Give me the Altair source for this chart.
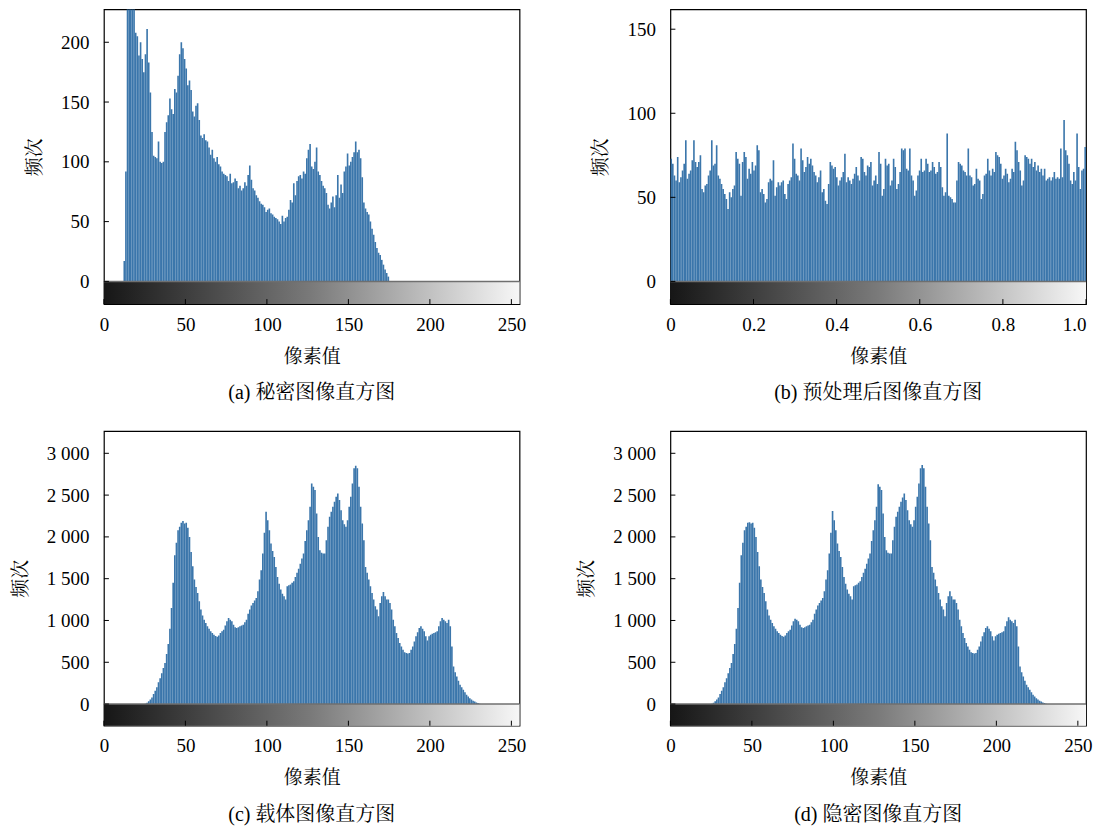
import altair as alt
import pandas as pd

FONT = "'Liberation Serif', 'Noto Serif CJK SC', 'Noto Sans CJK SC', serif"
BAR = "#3b76ab"
W, H = 416, 295

# ---------------- data ----------------
secret = [0] * 12 + [
    17, 92, 255, 250, 245, 240, 230, 208, 205, 189, 200, 186, 175, 190, 211, 183,
    158, 125, 105, 104, 103, 117, 100, 99, 100, 125, 133, 139, 153, 144, 140, 161,
    158, 172, 190, 200, 195, 186, 178, 164, 168, 160, 142, 138, 147, 149, 135, 122,
    120, 123, 118, 117, 112, 106, 110, 103, 100, 104, 98, 96, 92, 90, 89, 88,
    84, 90, 82, 83, 86, 84, 78, 80, 76, 78, 83, 80, 89, 97, 85, 78,
    76, 72, 70, 67, 65, 64, 62, 58, 60, 61, 57, 56, 54, 53, 52, 50,
    48, 55, 50, 53, 54, 60,
    68, 66, 82, 72, 84, 88, 89, 86, 92, 90, 103, 110, 115, 96, 94, 100,
    112, 92, 89, 84, 80, 78, 74, 64, 61, 66, 71, 62, 72, 89, 70, 81,
    74, 92, 96, 107, 97, 100, 104, 108, 117, 108, 110, 103, 87, 66, 61, 58,
    56, 50, 44, 39, 33, 28, 24, 22, 18, 14, 10, 7, 4, 0,
]
secret = secret + [0] * (256 - len(secret))

preproc = [
    73, 70, 63, 60, 74, 59, 62, 66, 70, 84, 61, 64, 66, 72, 84, 71,
    68, 71, 75, 55, 53, 57, 58, 63, 66, 84, 69, 70, 81, 63, 61, 58,
    55, 52, 49, 43, 53, 50, 55, 57, 77, 73, 70, 51, 71, 77, 74, 61,
    67, 64, 71, 66, 69, 81, 78, 53, 55, 52, 47, 49, 59, 61, 60, 72,
    51, 56, 59, 57, 59, 60, 52, 49, 58, 60, 62, 82, 73, 64, 63, 60,
    79, 72, 65, 68, 74, 70, 73, 69, 65, 63, 59, 62, 66, 53, 55, 48,
    46, 58, 71, 69, 67, 68, 62, 57, 60, 62, 65, 76, 59, 62, 60, 58,
    61, 64, 68, 63, 60, 74, 73, 65, 63, 69, 68, 71, 57, 60, 63, 58,
    77, 70, 51, 55, 73, 69, 70, 57, 60, 73, 68, 55, 58, 65, 79, 78,
    79, 67, 66, 79, 63, 60, 51, 54, 63, 66, 73, 65, 66, 73, 70, 65,
    66, 71, 68, 64, 65, 71, 68, 56, 51, 53, 88, 51, 50, 49, 47, 47,
    60, 71, 70, 69, 66, 65, 63, 79, 63, 62, 57, 58, 67, 61, 60, 49,
    52, 63, 64, 73, 66, 63, 67, 65, 77, 75, 74, 70, 61, 63, 67, 64,
    59, 61, 67, 65, 83, 78, 71, 66, 57, 60, 75, 74, 73, 70, 73, 68,
    71, 66, 69, 65, 67, 63, 67, 60, 61, 62, 60, 62, 65, 61, 62, 61,
    79, 62, 96, 78, 75, 70, 60, 58, 65, 60, 88, 68, 55, 66, 67, 80,
]

cover = [0] * 25 + [
    5, 15, 35, 55, 80, 120, 160, 200, 260, 310, 370, 430, 490, 600, 720,
    900, 1150, 1450, 1780, 1930, 2080, 2120, 2170, 2190, 2160, 2170, 2110, 2000, 1820, 1650, 1490,
    1400, 1330, 1230, 1130, 1060, 1010, 970, 930, 900, 870, 850, 830, 815, 805, 820, 850,
    870, 890, 940, 990, 1030, 1010, 990, 950, 920, 910, 920, 930, 940, 950, 980, 1010,
    1080, 1130, 1180, 1210, 1240, 1270, 1350, 1490, 1600, 1800, 2050, 2300, 2200, 2080, 1920, 1830,
    1760, 1640, 1520, 1440, 1370, 1320, 1290, 1250, 1410, 1420, 1430, 1450, 1470, 1520, 1570, 1620,
    1680, 1740, 1800, 1950, 2080, 2200, 2360, 2640, 2600, 2560, 2280, 2000, 1840, 1810, 1800, 1800,
    1960, 2120, 2240, 2300, 2360, 2420, 2480, 2520, 2440, 2320, 2200, 2150, 2120, 2200, 2360, 2480,
    2640, 2820, 2850, 2820, 2600, 2360, 2160, 1960, 1640, 1570, 1490, 1410, 1330, 1250, 1170, 1130,
    1050, 1210, 1290, 1340, 1290, 1250, 1250, 1210, 1130, 1010, 930, 850, 790, 730, 690, 650,
    620, 610, 605, 610, 650, 690, 750, 810, 860, 910, 930, 900, 870, 810, 760, 810,
    830, 840, 850, 860, 870, 930, 990, 1030, 1010, 990, 970, 1010, 930, 690, 450, 380,
    330, 280, 230, 200, 170, 140, 110, 90, 70, 55, 40, 30, 20, 12, 5,
]
cover = cover + [0] * (256 - len(cover))

stego = list(cover)
stego_changes = {48: 2175, 99: 2310, 127: 2630, 154: 2860, 171: 1350, 207: 1040, 142: 2470, 76: 1020}
for k, v in stego_changes.items():
    stego[k] = v

x_ticks_int = [0, 50, 100, 150, 200, 250]
x_ticks_unit = [0, 0.2, 0.4, 0.6, 0.8, 1.0]
y_ticks_a = [0, 50, 100, 150, 200]
y_ticks_b = [0, 50, 100, 150]
y_ticks_c = [0, 500, 1000, 1500, 2000, 2500, 3000]
captions = ["(a) 秘密图像直方图", "(b) 预处理后图像直方图", "(c) 载体图像直方图", "(d) 隐密图像直方图"]


def panel(values, xmax, step, ydom, yticks, xticks, caption, xlabel_expr, ylabel_expr):
    n = len(values)
    df = pd.DataFrame({"bin": list(range(n)), "count": values})
    df["x0"] = df["bin"] * step
    df["x1"] = (df["bin"] + 1) * step

    xscale = alt.Scale(domain=[0, xmax], nice=False, zero=False)
    yscale = alt.Scale(domain=ydom, nice=False, zero=False)
    axis_style = dict(labelFont=FONT, titleFont=FONT, labelFontSize=19, titleFontSize=19,
                      labelColor="black", titleColor="black", titleFontWeight="normal",
                      ticks=False, domain=False, grid=False)
    xaxis = alt.Axis(values=xticks, labelExpr=xlabel_expr, title="像素值", labelFlush=False,
                     labelAlign=alt.expr(f"datum.value >= {xmax} ? 'right' : 'center'"),
                     labelPadding=11, titlePadding=13, **axis_style)
    yaxis = alt.Axis(values=yticks, labelExpr=ylabel_expr, title="频次",
                     labelPadding=15, titlePadding=16, **axis_style)

    grad = {
        "gradient": "linear", "x1": 0, "x2": 1, "y1": 0, "y2": 0,
        "stops": [{"offset": 0, "color": "#161616"}, {"offset": 0.5, "color": "#7a7a7a"},
                  {"offset": 1, "color": "#f7f7f7"}],
    }
    band = alt.Chart(df.head(1)).mark_rect(fill=grad).encode(
        x=alt.XDatum(0, scale=xscale, axis=xaxis),
        x2=alt.X2Datum(xmax),
        y=alt.YDatum(0, scale=yscale, axis=yaxis),
        y2=alt.Y2Datum(ydom[0]),
    )
    bars = alt.Chart(df).mark_rect(color=BAR, clip=True).encode(
        x=alt.X("x0:Q", scale=xscale, axis=xaxis),
        x2="x1:Q",
        y=alt.Y("count:Q", scale=yscale, axis=yaxis),
        y2=alt.Y2Datum(0),
    )
    zero = alt.Chart(df.head(1)).mark_rule(color="#6f6f6f", strokeWidth=1.5).encode(
        y=alt.YDatum(0, scale=yscale, axis=yaxis),
    )
    xt = alt.Chart(pd.DataFrame({"t": xticks})).mark_rule(color="black", strokeWidth=1).encode(
        x=alt.X("t:Q", scale=xscale, axis=xaxis),
        y=alt.value(H), y2=alt.value(H - 5),
    )
    yt = alt.Chart(pd.DataFrame({"t": yticks})).mark_rule(color="black", strokeWidth=1).encode(
        y=alt.Y("t:Q", scale=yscale, axis=yaxis),
        x=alt.value(0), x2=alt.value(5),
    )
    return alt.layer(band, bars, zero, xt, yt).properties(
        width=W, height=H,
        title=alt.TitleParams(caption, orient="bottom", anchor="middle", fontSize=20,
                              font=FONT, fontWeight="normal", color="black", offset=17),
    )


int_expr = "format(datum.value, 'd')"
unit_expr = "datum.value == 0 ? '0' : format(datum.value, '.1f')"
plain_expr = "format(datum.value, 'd')"
thou_expr = "replace(format(datum.value, ','), ',', ' ')"

pa = panel(secret, 255, 1, [-19, 227.5], y_ticks_a, x_ticks_int, captions[0], int_expr, plain_expr)
pb = panel(preproc, 1.0, 1 / 256, [-13.5, 161.8], y_ticks_b, x_ticks_unit, captions[1], unit_expr, plain_expr)
pc = panel(cover, 255, 1, [-259, 3267], y_ticks_c, x_ticks_int, captions[2], int_expr, thou_expr)
pd_ = panel(stego, 255, 1, [-259, 3267], y_ticks_c, x_ticks_int, captions[3], int_expr, thou_expr)

chart = alt.concat(pa, pb, pc, pd_, columns=2, spacing={"row": 26, "column": 50}).properties(
    padding={"left": 2, "top": 0, "right": 0, "bottom": 0},
    background="white",
).configure_view(
    stroke="black", strokeWidth=1.2
)

chart.save("out.html", embed_options={"renderer": "svg", "actions": False})
